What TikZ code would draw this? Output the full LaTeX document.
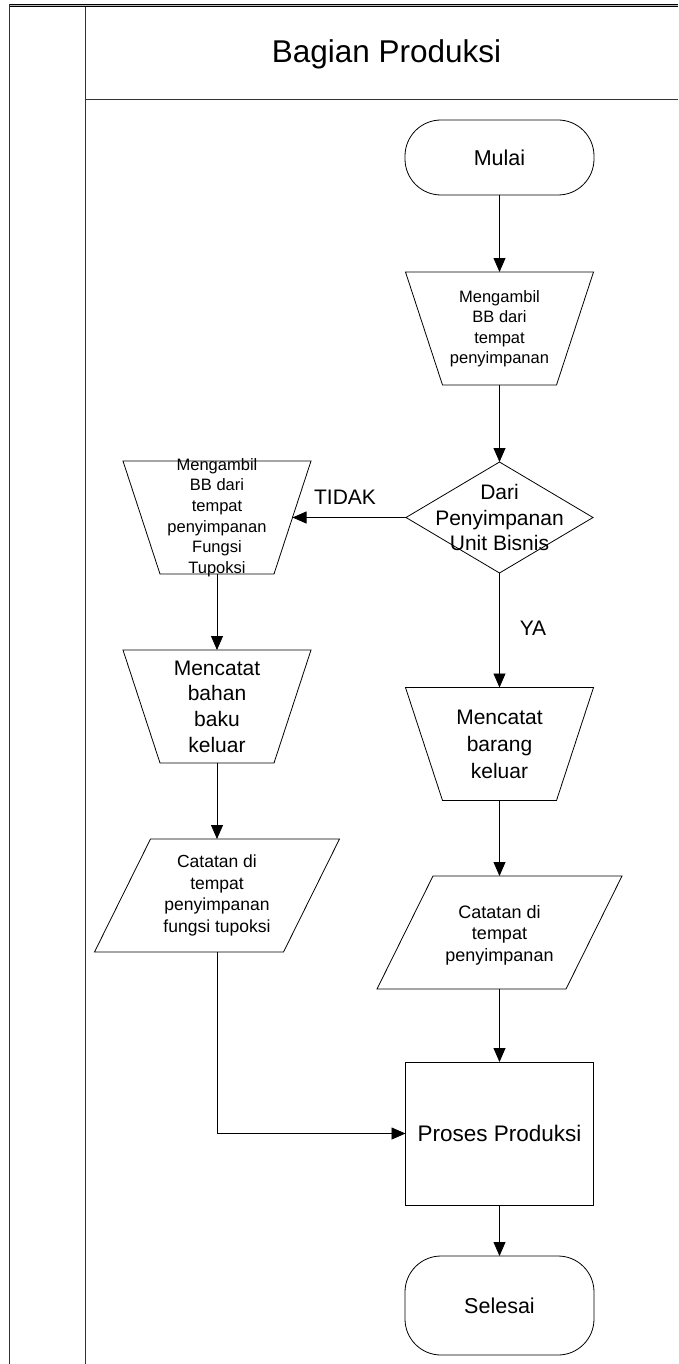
\documentclass[tikz,border=0pt]{standalone}
\usepackage{fontspec}
\setmainfont{Liberation Sans}
\usetikzlibrary{arrows.meta,calc}
\newcommand\fsz[2]{\fontsize{#1}{#2}\selectfont}
\newcommand\manopoutline[1]{\draw[line] (#1.north west) -- (#1.north east) -- ($(#1.south east)+(-37,0)$) -- ($(#1.south west)+(37,0)$) -- cycle;}
\newcommand\dataoutline[1]{\draw[line] ($(#1.north west)+(56,0)$) -- (#1.north east) -- ($(#1.south east)+(-56,0)$) -- (#1.south west) -- cycle;}
\newcommand\diamondoutline[1]{\draw[line] (#1.north) -- (#1.east) -- (#1.south) -- (#1.west) -- cycle;}
\tikzset{
  line/.style={draw=black, line width=0.8pt},
  arr/.style={line, -{Triangle[length=14pt,width=12pt]}},
  term/.style={line, rectangle, rounded corners=36pt, minimum width=189pt, inner sep=0pt, outer sep=0pt, font=\fsz{21.5}{25}},
  manop/.style={rectangle, minimum width=188pt, minimum height=113pt, inner sep=0pt, outer sep=0pt},
  dataio/.style={rectangle, minimum width=245pt, minimum height=113pt, inner sep=0pt, outer sep=0pt},
  decision/.style={rectangle, minimum width=187pt, minimum height=111pt, inner sep=0pt, outer sep=0pt},
  proc/.style={line, rectangle, minimum width=188pt, minimum height=143pt, inner sep=0pt, outer sep=0pt, font=\fsz{22.5}{26}},
  txt/.style={align=center, inner sep=0pt},
}
\begin{document}
\begin{tikzpicture}[x=1pt,y=-1pt]
\useasboundingbox (0,0) rectangle (678,1364);
% frame
\fill[gray!55] (9,4.3) rectangle (678,6.7);
\draw[line width=0.7pt] (9,4.3) -- (678,4.3);
\draw[line width=0.7pt] (9,6.7) -- (678,6.7);
\draw[line width=1pt, black!80] (9,4.3) -- (9,1364);
\draw[line width=1pt, black!80] (85,6.7) -- (85,1364);
\draw[line width=1pt, black!80] (85,100) -- (678,100);
\node[txt, font=\fsz{31.5}{36}, anchor=base] (title) at (386.5,62.3) {Bagian Produksi};

% right column
\node[term, minimum height=75pt] (mulai) at (499.5,157.5) {Mulai};
\node[manop] (t1) at (499.5,328.5) {};
\manopoutline{t1}
\node[txt, font=\fsz{16.5}{20.5}] (t1t) at (t1.center) {Mengambil\\BB dari\\tempat\\penyimpanan};
\node[decision] (d) at (499.5,517.5) {};
\diamondoutline{d}
\node[txt, font=\fsz{21}{25.5}] (dt) at (d.center) {Dari\\Penyimpanan\\Unit Bisnis};
\node[manop] (mbr) at (499.5,744) {};
\manopoutline{mbr}
\node[txt, font=\fsz{21}{27}] (mbrt) at (mbr.center) {Mencatat\\barang\\keluar};
\node[dataio] (rp) at (499.5,932.5) {};
\dataoutline{rp}
\node[txt, font=\fsz{18}{21.5}] (rpt) at (499.5,935) {Catatan di\\tempat\\penyimpanan};
\node[proc] (pp) at (499.5,1133.5) {Proses Produksi};
\node[term, minimum height=99pt] (selesai) at (499.5,1305.5) {Selesai};

% left column
\node[manop] (lt) at (217,517.5) {};
\manopoutline{lt}
\node[txt, font=\fsz{16.5}{20.6}] (ltt) at (lt.center) {Mengambil\\BB dari\\tempat\\penyimpanan\\Fungsi\\Tupoksi};
\node[manop] (mba) at (217,706.5) {};
\manopoutline{mba}
\node[txt, font=\fsz{21}{25.6}] (mbat) at (mba.center) {Mencatat\\bahan\\baku\\keluar};
\node[dataio] (lp) at (217,895.5) {};
\dataoutline{lp}
\node[txt, font=\fsz{17.5}{21.5}] (lpt) at (217,895.5) {Catatan di\\tempat\\penyimpanan\\fungsi tupoksi};

% labels
\node[txt, font=\fsz{21}{25}] (tidak) at (345,497) {TIDAK};
\node[txt, font=\fsz{21}{25}] (ya) at (533,628) {YA};

% connectors
\draw[arr] (mulai.south) -- (t1.north);
\draw[arr] (t1.south) -- (d.north);
\draw[arr] (d.west) -- ($(lt.east)+(-18.5,0)$);
\draw[arr] (d.south) -- (mbr.north);
\draw[arr] (lt.south) -- (mba.north);
\draw[arr] (mba.south) -- (lp.north);
\draw[arr] (mbr.south) -- (rp.north);
\draw[arr] (rp.south) -- (pp.north);
\draw[arr] (lp.south) |- (pp.west);
\draw[arr] (pp.south) -- (selesai.north);
\end{tikzpicture}
\end{document}
